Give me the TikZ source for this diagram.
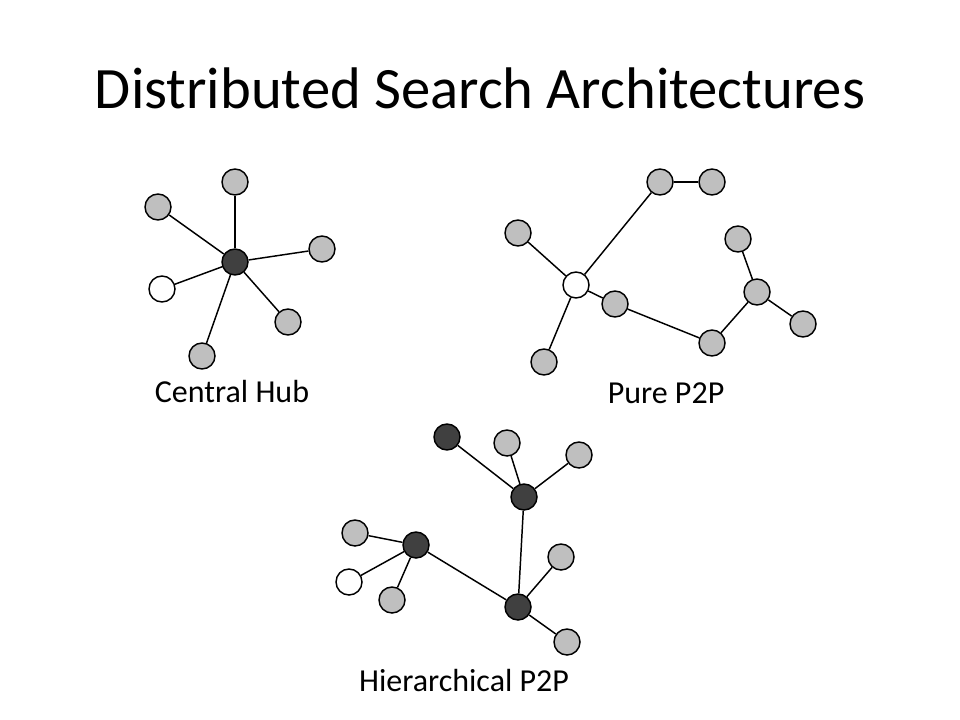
\documentclass[tikz,border=0pt]{standalone}
\usepackage{fontspec}
\setmainfont{Carlito}
\begin{document}
\begin{tikzpicture}[x=0.75pt,y=-0.75pt,
  nd/.style={circle,draw=black,line width=1.1pt,minimum size=26*0.75pt,inner sep=0pt},
  gr/.style={nd,fill=gray!50!white},
  dk/.style={nd,fill=black!75},
  wh/.style={nd,fill=white},
  ed/.style={line width=1.1pt},
  lbl/.style={anchor=base,font=\fontsize{24}{28}\selectfont}]
\useasboundingbox (0,0) rectangle (960,720);
\node[anchor=base,font=\fontsize{44}{52}\selectfont] (title) at (480,109) {Distributed Search Architectures};
% Central hub
\node[dk] (h) at (235,262) {};
\node[gr] (h1) at (235,182) {};
\node[gr] (h2) at (158,207) {};
\node[gr] (h3) at (322,249) {};
\node[wh] (h4) at (162,289) {};
\node[gr] (h5) at (288,322) {};
\node[gr] (h6) at (202,356) {};
\begin{scope}[on background layer/.style={}]
\end{scope}
\foreach \n in {h1,h2,h3,h4,h5,h6} \draw[ed] (h) -- (\n);
\node[lbl] (lh) at (232,402) {Central Hub};
% Pure P2P
\node[wh] (p) at (576,285) {};
\node[gr] (p1) at (660,182) {};
\node[gr] (p2) at (712,182) {};
\node[gr] (p3) at (518,233) {};
\node[gr] (p4) at (615,304) {};
\node[gr] (p5) at (544,362) {};
\node[gr] (p6) at (738,239) {};
\node[gr] (p7) at (757,292) {};
\node[gr] (p8) at (803,324) {};
\node[gr] (p9) at (712,343) {};
\draw[ed] (p) -- (p1);
\draw[ed] (p1) -- (p2);
\draw[ed] (p3) -- (p);
\draw[ed] (p) -- (p4);
\draw[ed] (p) -- (p5);
\draw[ed] (p4) -- (p9);
\draw[ed] (p9) -- (p7);
\draw[ed] (p6) -- (p7);
\draw[ed] (p7) -- (p8);
\node[lbl] (lp) at (666,403) {Pure P2P};
% Hierarchical P2P
\node[dk] (a) at (524,497) {};
\node[dk] (b) at (416,545) {};
\node[dk] (c) at (518,607) {};
\node[dk] (a1) at (447,437) {};
\node[gr] (a2) at (507,443) {};
\node[gr] (a3) at (579,455) {};
\node[gr] (b1) at (355,533) {};
\node[wh] (b2) at (349,582) {};
\node[gr] (b3) at (392,600) {};
\node[gr] (c1) at (561,557) {};
\node[gr] (c2) at (567,642) {};
\foreach \n in {a1,a2,a3} \draw[ed] (a) -- (\n);
\foreach \n in {b1,b2,b3} \draw[ed] (b) -- (\n);
\foreach \n in {c1,c2} \draw[ed] (c) -- (\n);
\draw[ed] (a) -- (c);
\draw[ed] (b) -- (c);
\node[lbl] (lhp) at (464,691) {Hierarchical P2P};
\end{tikzpicture}
\end{document}
